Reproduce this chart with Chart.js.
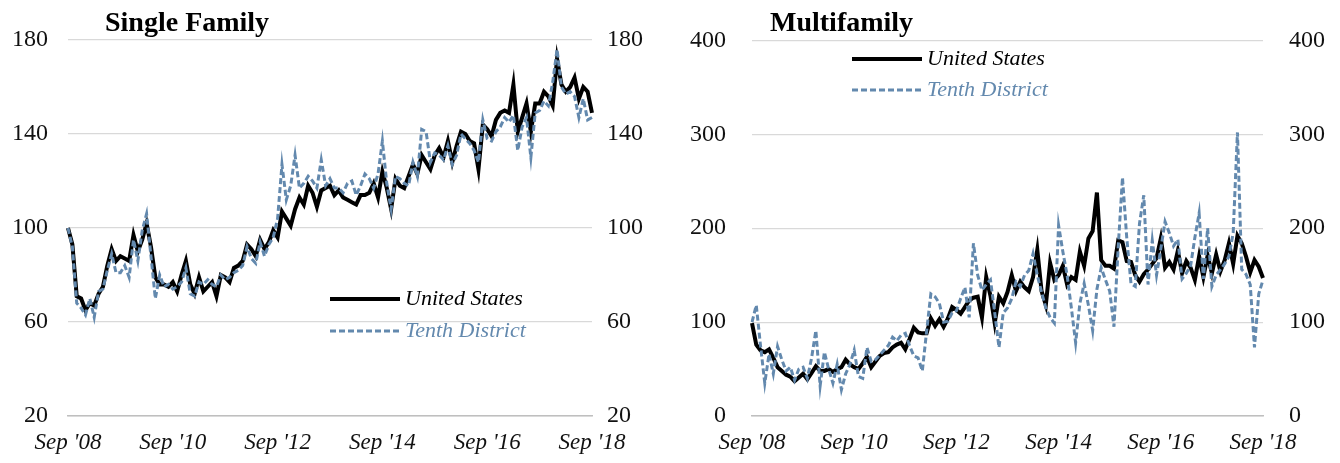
<!DOCTYPE html>
<html>
<head>
<meta charset="utf-8">
<script src="https://cdn.jsdelivr.net/npm/chart.js@4/dist/chart.umd.min.js"></script>
<style>
html,body{margin:0;padding:0;background:#fff;overflow:hidden}
#wrap{position:relative;width:1340px;height:463px}
canvas{position:absolute;top:0}
</style>
</head>
<body>
<div id="wrap">
<canvas id="c1" width="670" height="463" style="left:0"></canvas>
<canvas id="c2" width="670" height="463" style="left:670px"></canvas>
</div>
<script>
// ---- categories: monthly, Sep 2008 .. Sep 2018 ----
const monthNames = ["Jan","Feb","Mar","Apr","May","Jun","Jul","Aug","Sep","Oct","Nov","Dec"];
const categories = [];
for (let y = 2008, m = 8; y < 2018 || (y === 2018 && m <= 8); m++) {
  if (m > 11) { m = 0; y++; }
  if (y === 2018 && m > 8) break;
  categories.push(monthNames[m] + " " + y);
}
const xTickLabels = ["Sep '08", "Sep '10", "Sep '12", "Sep '14", "Sep '16", "Sep '18"];
const sfTicks = [20, 60, 100, 140, 180];
const mfTicks = [0, 100, 200, 300, 400];
const seriesNames = ["United States", "Tenth District"];
const panelTitles = ["Single Family", "Multifamily"];

// ---- Single family permits index ----
const sfUS = [100,93,71,70,65,68,67,72,75,84,91,86,88,87,86,97,90,95,102,92,
  79,76,76,75,77,73,80,86,76,72,79,73,75,77,71,80,79,77,83,84,
  86,93,91,88,95,91,94,99,96,107,104,101,108,113,110,118,115,109,116,117,
  118,114,116,113,112,111,110,114,114,115,119,113,124,117,108,121,118,117,122,127,
  123,131,128,125,131,134,130,137,128,135,141,140,137,136,125,144,142,139,146,149,
  150,149,161,141,147,153,141,153,153,158,156,152,172,161,158,160,164,155,160,158,149];
const sfTD = [100,92,68,66,63,70,62,73,74,82,89,81,81,84,79,95,86,99,106,88,
  70,80,75,76,74,75,77,83,72,71,77,76,78,76,75,80,78,79,81,82,
  84,92,87,85,94,88,93,96,104,127,112,118,131,117,119,122,120,117,129,118,
  121,117,117,115,119,120,114,118,123,121,117,123,137,119,108,122,121,119,118,128,
  122,142,141,128,132,131,129,135,127,131,140,138,136,133,128,146,138,137,141,143,
  147,145,148,133,143,147,130,149,150,154,152,162,176,160,157,158,156,147,155,146,147];

// ---- Multifamily permits index ----
const mfUS = [99,76,70,68,71,62,52,48,44,42,37,41,45,39,46,53,48,48,50,47,
  50,52,60,55,52,50,56,63,52,58,64,67,68,73,76,78,71,82,94,89,
  88,88,104,96,103,95,104,116,113,109,116,123,126,127,105,148,128,99,127,120,
  132,150,133,143,137,133,148,177,133,118,163,145,150,160,140,148,145,175,160,189,
  197,238,166,160,160,157,187,185,165,164,150,143,151,156,162,168,189,158,164,156,
  176,152,165,158,145,170,148,171,152,172,154,166,184,162,192,184,170,153,166,159,147];
const mfTD = [100,118,75,35,66,45,74,60,48,52,38,50,52,40,62,91,32,68,50,35,
  55,28,45,55,70,42,40,73,58,60,65,70,75,84,80,86,88,75,64,62,
  48,90,130,127,120,100,101,110,112,125,137,105,184,150,134,140,145,110,73,110,
  115,125,143,138,150,155,173,150,132,115,105,99,203,175,150,115,78,120,141,118,
  91,135,158,145,133,95,180,254,190,141,138,205,235,140,187,150,178,207,195,181,
  188,146,152,160,190,216,146,200,138,150,156,162,170,195,302,156,151,140,73,130,145];

const FONT = '"Liberation Serif", "Times New Roman", serif';
const BLUE = '#6389ae';

const overlay = {
  id: 'overlay',
  afterDraw(chart, args, o) {
    const ctx = chart.ctx;
    ctx.save();
    ctx.fillStyle = '#000';
    ctx.font = 'bold 28px ' + FONT;
    ctx.textAlign = 'left';
    ctx.textBaseline = 'alphabetic';
    ctx.fillText(o.title, o.titleX, o.titleY);
    chart.data.datasets.forEach((ds, i) => {
      const y = o.legendY + i * o.legendGap;
      ctx.beginPath();
      ctx.strokeStyle = ds.borderColor;
      ctx.lineWidth = ds.borderWidth;
      ctx.setLineDash(ds.borderDash || []);
      ctx.moveTo(o.legendX, y);
      ctx.lineTo(o.legendX + 70, y);
      ctx.stroke();
      ctx.setLineDash([]);
      ctx.font = 'italic 22px ' + FONT;
      ctx.fillStyle = ds.textColor;
      ctx.textBaseline = 'middle';
      ctx.fillText(ds.label, o.legendX + 75, y);
    });
    ctx.restore();
  }
};

function makeChart(id, us, td, ticks, p) {
  const tickFont = { family: FONT, size: 24 };
  const yCommon = {
    min: ticks[0], max: ticks[ticks.length - 1],
    border: { display: false },
    ticks: { stepSize: ticks[1] - ticks[0], color: '#111', font: tickFont },
  };
  return new Chart(document.getElementById(id), {
    type: 'line',
    data: {
      labels: categories,
      datasets: [
        { label: seriesNames[0], data: us, borderColor: '#000', borderWidth: 4, textColor: '#000',
          pointRadius: 0, tension: 0, order: 1, yAxisID: 'y' },
        { label: seriesNames[1], data: td, borderColor: BLUE, borderWidth: 3, borderDash: [6, 3], textColor: BLUE,
          pointRadius: 0, tension: 0, order: 0, yAxisID: 'y' }
      ]
    },
    options: {
      responsive: false, animation: false, devicePixelRatio: 1,
      layout: { padding: { top: 40, left: 0, right: 0, bottom: 0 } },
      plugins: {
        legend: { display: false }, tooltip: { enabled: false }, title: { display: false },
        overlay: p.overlay
      },
      scales: {
        x: {
          type: 'category', offset: false,
          grid: { display: false, drawTicks: false },
          border: { display: true, color: '#bfbfbf', width: 1.5 },
          ticks: {
            autoSkip: false, maxRotation: 0, padding: 13, color: '#111',
            font: { family: FONT, size: 23, style: 'italic' },
            callback: (v, i) => (i % 24 === 0 ? xTickLabels[i / 24] : null)
          },
          afterFit: s => { s.height = 47; }
        },
        y: Object.assign({}, yCommon, {
          position: 'left',
          grid: { color: '#d9d9d9', lineWidth: 1.2, drawTicks: false },
          ticks: Object.assign({}, yCommon.ticks, { padding: p.padL }),
          afterFit: s => { s.width = p.left; }
        }),
        y2: Object.assign({}, yCommon, {
          position: 'right',
          grid: { display: false, drawTicks: false },
          ticks: Object.assign({}, yCommon.ticks, { padding: p.padR }),
          afterFit: s => { s.width = 670 - p.right; }
        })
      }
    },
    plugins: [overlay]
  });
}

makeChart('c1', sfUS, sfTD, sfTicks, {
  left: 68, right: 592, padL: 20, padR: 15,
  overlay: { title: panelTitles[0], titleX: 105, titleY: 31, legendX: 330, legendY: 299, legendGap: 32 }
});
makeChart('c2', mfUS, mfTD, mfTicks, {
  left: 82, right: 593, padL: 26, padR: 26,
  overlay: { title: panelTitles[1], titleX: 100, titleY: 31, legendX: 182, legendY: 59, legendGap: 31 }
});
</script>
</body>
</html>
